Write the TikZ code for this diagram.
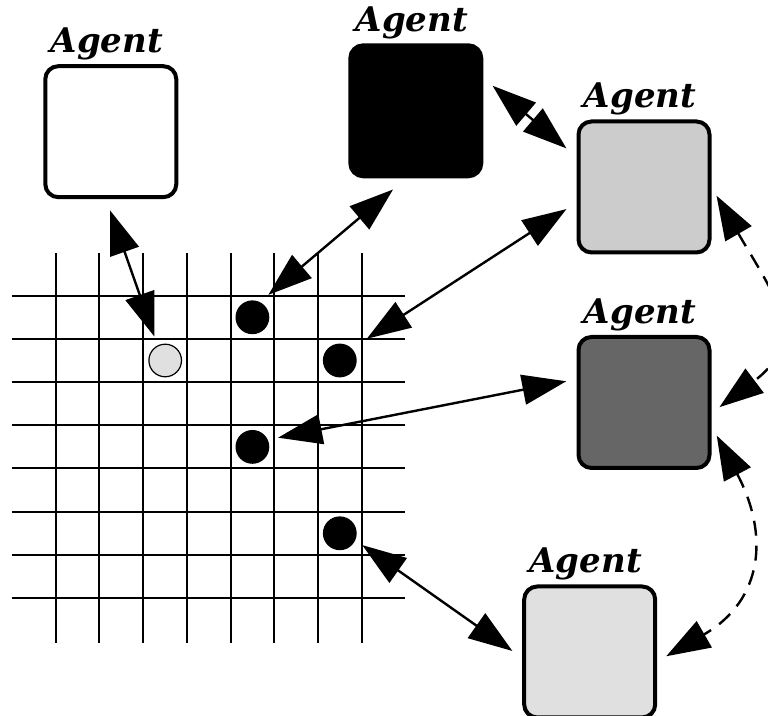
\documentclass[tikz,border=0pt]{standalone}
\usepackage{fontspec}
\newfontfamily\agentfont{DejaVu Serif}
\usetikzlibrary{arrows.meta}
\begin{document}
\begin{tikzpicture}[x=0.5pt, y=0.5pt,
		agent/.style={draw, line width=2pt, rounded corners=6.5pt, minimum size=65.5pt, inner sep=0pt},
		agenttext/.style={font=\agentfont\fontsize{17}{20}\selectfont\bfseries\itshape, inner sep=0pt, xshift=-2pt, yshift=2pt},
		dot/.style={circle, draw, line width=0.6pt, minimum size=16.3pt, inner sep=0pt},
		link/.style={{Triangle[length=22pt,width=15pt]}-{Triangle[length=22pt,width=15pt]}, line width=1.2pt},
		talk/.style={link, dash pattern=on 7.5pt off 5pt}]
		\useasboundingbox (0,0) rectangle (768,716);
		
		% Grid
		\foreach \i in {0,...,7}
			\draw[line width=1pt] ({55.7+43.7*\i},73.3) -- ({55.7+43.7*\i},463.3);
		\foreach \j in {0,...,7}
			\draw[line width=1pt] (11.7,{420.3-43.2*\j}) -- (405,{420.3-43.2*\j});
		
		% Dots on the grid
		\node[dot, fill=black!12] (DotPale) at (165.2,355.5) {};
		\node[dot, fill=black] (Dot1) at (252.4,398.7) {};
		\node[dot, fill=black] (Dot2) at (339.8,355.5) {};
		\node[dot, fill=black] (Dot3) at (252.4,269.1) {};
		\node[dot, fill=black] (Dot4) at (339.8,182.7) {};
		
		% Agents
		\node[agent, fill=white, label={[agenttext]above:Agent}] (AgentWhite) at (110.8,584.3) {};
		\node[agent, fill=black, label={[agenttext]above:Agent}] (AgentBlack) at (415.8,605.2) {};
		\node[agent, fill=black!20, label={[agenttext]above:Agent}] (AgentLight) at (644,529) {};
		\node[agent, fill=black!60, label={[agenttext]above:Agent}] (AgentDark) at (644,313.5) {};
		\node[agent, fill=black!12, label={[agenttext]above:Agent}] (AgentPale) at (589.7,64) {};
		
		% Agents to the grid
		\draw[link, shorten <=5.9pt, shorten >=4.7pt] (AgentWhite.266) -- (DotPale.117);
		\draw[link, shorten <=8.7pt, shorten >=5.6pt] (AgentBlack.262) -- (Dot1.64);
		\draw[link, shorten <=6pt, shorten >=9pt] (AgentLight.193) -- (Dot2.45);
		\draw[link, shorten <=5.2pt, shorten >=5.3pt] (AgentDark.161) -- (Dot3.25);
		\draw[link, shorten <=6pt, shorten >=4.3pt] (AgentPale.185) -- (Dot4.-24);
		
		% Agents to agents
		\draw[talk, shorten <=6.1pt, shorten >=6.6pt] (AgentBlack.26) -- (AgentLight.156);
		\draw[talk, shorten <=5pt, shorten >=5pt] (AgentLight.east) to[out=-60, in=37, looseness=1.4] (AgentDark.-9);
		\draw[talk, shorten <=5.6pt, shorten >=5.2pt] (AgentDark.-19) to[out=-62, in=30, looseness=1.3] (AgentPale.-8);
	\end{tikzpicture}
\end{document}
